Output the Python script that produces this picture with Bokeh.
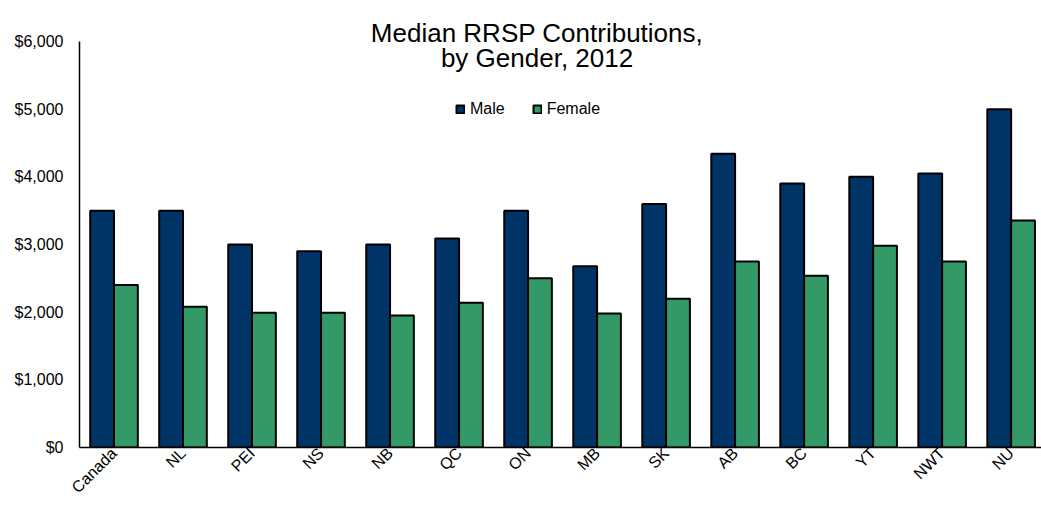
import math
from bokeh.plotting import figure
from bokeh.models import (Range1d, FixedTicker, NumeralTickFormatter, Label,
                          Legend, LegendItem, ColumnDataSource)
from bokeh.transform import dodge
from bokeh.embed import file_html
from bokeh.resources import INLINE

# ---- data ----
regions = ["Canada", "NL", "PEI", "NS", "NB", "QC", "ON", "MB", "SK", "AB",
           "BC", "YT", "NWT", "NU"]
male = [3500, 3500, 3000, 2900, 3000, 3090, 3500, 2680, 3600, 4340, 3900,
        4000, 4050, 5000]
female = [2400, 2080, 1990, 1990, 1950, 2140, 2500, 1980, 2200, 2750, 2540,
          2980, 2750, 3355]
y_ticks = [0, 1000, 2000, 3000, 4000, 5000, 6000]
series_names = ["Male", "Female"]
title_lines = ["Median RRSP Contributions,", "by Gender, 2012"]

MALE_COLOR = "#003366"
FEMALE_COLOR = "#339966"
FONT = "Liberation Sans"

xs = [i + 0.5 for i in range(len(regions))]
source = ColumnDataSource(dict(x=xs, male=male, female=female, region=regions))

p = figure(width=1041, height=505,
           x_range=Range1d(0, 13.94), y_range=Range1d(0, 6606),
           output_backend="svg", toolbar_location=None,
           min_border_left=79, min_border_right=0,
           min_border_top=0, min_border_bottom=58)
p.outline_line_color = None
p.grid.visible = False
p.background_fill_color = "white"

bw = 0.345
r1 = p.vbar(x=dodge("x", -bw / 2), top="male", width=bw, source=source,
            fill_color=MALE_COLOR, line_color="black", line_width=2)
r2 = p.vbar(x=dodge("x", bw / 2), top="female", width=bw, source=source,
            fill_color=FEMALE_COLOR, line_color="black", line_width=2)

# y axis
ya = p.yaxis[0]
ya.ticker = FixedTicker(ticks=y_ticks)
ya.formatter = NumeralTickFormatter(format="$0,0")
ya.bounds = (0, 6000)
ya.axis_line_color = "black"
ya.axis_line_width = 1.5
ya.major_tick_out = 0
ya.major_tick_in = 0
ya.minor_tick_out = 0
ya.minor_tick_in = 0
ya.major_label_standoff = 16
ya.major_label_text_font = FONT
ya.major_label_text_font_size = "16px"
ya.major_label_text_color = "black"

# x axis
xa = p.xaxis[0]
xa.ticker = FixedTicker(ticks=xs)
xa.major_label_overrides = {x: r for x, r in zip(xs, regions)}
xa.major_label_orientation = math.pi / 4
xa.axis_line_color = "black"
xa.axis_line_width = 1.5
xa.major_tick_out = 0
xa.major_tick_in = 0
xa.minor_tick_out = 0
xa.minor_tick_in = 0
xa.major_label_standoff = 3
xa.major_label_text_font = FONT
xa.major_label_text_font_size = "16px"
xa.major_label_text_color = "black"

# legend
legend = Legend(items=[LegendItem(label=series_names[0], renderers=[r1]),
                       LegendItem(label=series_names[1], renderers=[r2])],
                orientation="horizontal", location=(376, 329),
                border_line_color=None, background_fill_alpha=0,
                padding=0, margin=0, spacing=27,
                glyph_width=10, glyph_height=10, label_standoff=5,
                label_text_font=FONT, label_text_font_size="16px",
                label_text_color="black")
p.add_layout(legend)

# title (two lines)
for txt, yy in zip(title_lines, [6133, 5757]):
    p.add_layout(Label(x=6.63, y=yy, text=txt, text_align="center",
                       text_baseline="alphabetic", text_font=FONT,
                       text_font_size="26px", text_color="black"))

open("out.html", "w").write(file_html(p, INLINE))
